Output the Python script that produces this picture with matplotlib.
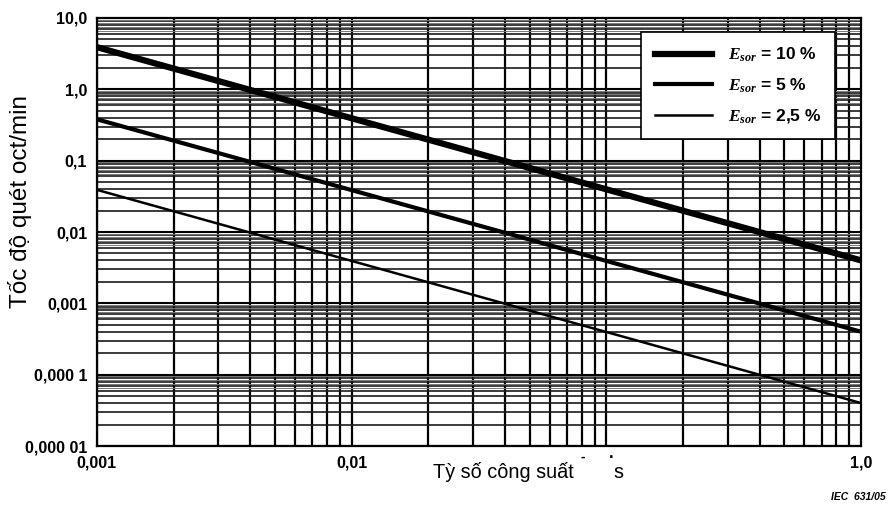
import numpy as np
import matplotlib.pyplot as plt
from matplotlib.ticker import FixedLocator, NullFormatter

# power ratio (x) and sweep rate in oct/min (y) at the two ends of each line
ratio = [0.001, 1.0]
rate_10 = [3.9, 0.004]
rate_5 = [0.38, 0.0004]
rate_2_5 = [0.039, 0.00004]

x_ticks = [0.001, 0.01, 1.0]
x_tick_labels = ["0,001", "0,01", "1,0"]
y_ticks = [1e-5, 1e-4, 1e-3, 1e-2, 1e-1, 1.0, 10.0]
y_tick_labels = ["0,000 01", "0,000 1", "0,001", "0,01", "0,1", "1,0", "10,0"]

legend_labels = [r"$E_{sor}$ = 10 %", r"$E_{sor}$ = 5 %", r"$E_{sor}$ = 2,5 %"]

plt.rcParams["font.family"] = ["Liberation Sans", "DejaVu Sans"]
plt.rcParams["mathtext.fontset"] = "custom"
plt.rcParams["mathtext.it"] = "Liberation Serif:italic:bold"
plt.rcParams["mathtext.rm"] = "Liberation Serif:bold"

fig = plt.figure(figsize=(8.89, 5.08), dpi=100)
ax = fig.add_axes([0.109, 0.122, 0.8595, 0.8426])
ax.set_xscale("log")
ax.set_yscale("log")
ax.set_xlim(0.001, 1.0)
ax.set_ylim(1e-5, 10.0)

# grid: vertical lines at 1..9 of each decade
xs = [m * 10.0 ** e for e in range(-3, 0) for m in range(1, 10)]
for x in xs:
    ax.axvline(x, color="black", lw=1.6, zorder=1)
# horizontal lines at 2..9, plus faint half steps near the top of each decade
for e in range(-5, 1):
    ax.axhline(10.0 ** e, color="black", lw=1.5, zorder=1)
    for m in range(2, 10):
        ax.axhline(m * 10.0 ** e, color="#1a1a1a", lw=1.2, zorder=1)
    for m in [6.5, 7.5, 8.5, 9.5]:
        ax.axhline(m * 10.0 ** e, color="#777777", lw=0.7, zorder=1)

ax.plot(ratio, rate_10, color="black", lw=4.5, label=legend_labels[0], zorder=3)
ax.plot(ratio, rate_5, color="black", lw=3.0, label=legend_labels[1], zorder=3)
ax.plot(ratio, rate_2_5, color="black", lw=1.8, label=legend_labels[2], zorder=3)

ax.xaxis.set_major_locator(FixedLocator(x_ticks))
ax.set_xticklabels(x_tick_labels, fontsize=11.5, fontweight="bold")
ax.yaxis.set_major_locator(FixedLocator(y_ticks))
ax.set_yticklabels(y_tick_labels, fontsize=11.5, fontweight="bold")
ax.xaxis.set_minor_formatter(NullFormatter())
ax.yaxis.set_minor_formatter(NullFormatter())
ax.tick_params(which="both", length=0, pad=7)
for sp in ax.spines.values():
    sp.set_linewidth(1.6)

leg = ax.legend(loc="upper right", bbox_to_anchor=(0.966, 0.967), frameon=True,
                fancybox=False, edgecolor="black", framealpha=1.0,
                prop={"weight": "bold", "size": 12.5}, handlelength=3.3,
                labelspacing=0.7, borderpad=0.8, handletextpad=0.9,
                borderaxespad=0.0)
leg.get_frame().set_linewidth(1.2)
leg.set_zorder(5)

fig.text(0.487, 0.070, "Tỳ số công suất", fontsize=14.3, ha="left", va="center")
fig.text(0.656, 0.100, "-", fontsize=10, fontweight="bold", ha="center", va="center")
fig.text(0.688, 0.107, ".", fontsize=12, fontweight="bold", ha="center", va="center")
fig.text(0.690, 0.070, "s", fontsize=14.3, ha="left", va="center")
fig.text(0.022, 0.604, "Tốc độ quét oct/min", fontsize=17.5, rotation=90,
         ha="center", va="center")
fig.text(0.996, 0.022, "IEC  631/05", fontsize=7.5, fontweight="bold",
         style="italic", ha="right", va="center")

fig.savefig("out.png", dpi=100)
